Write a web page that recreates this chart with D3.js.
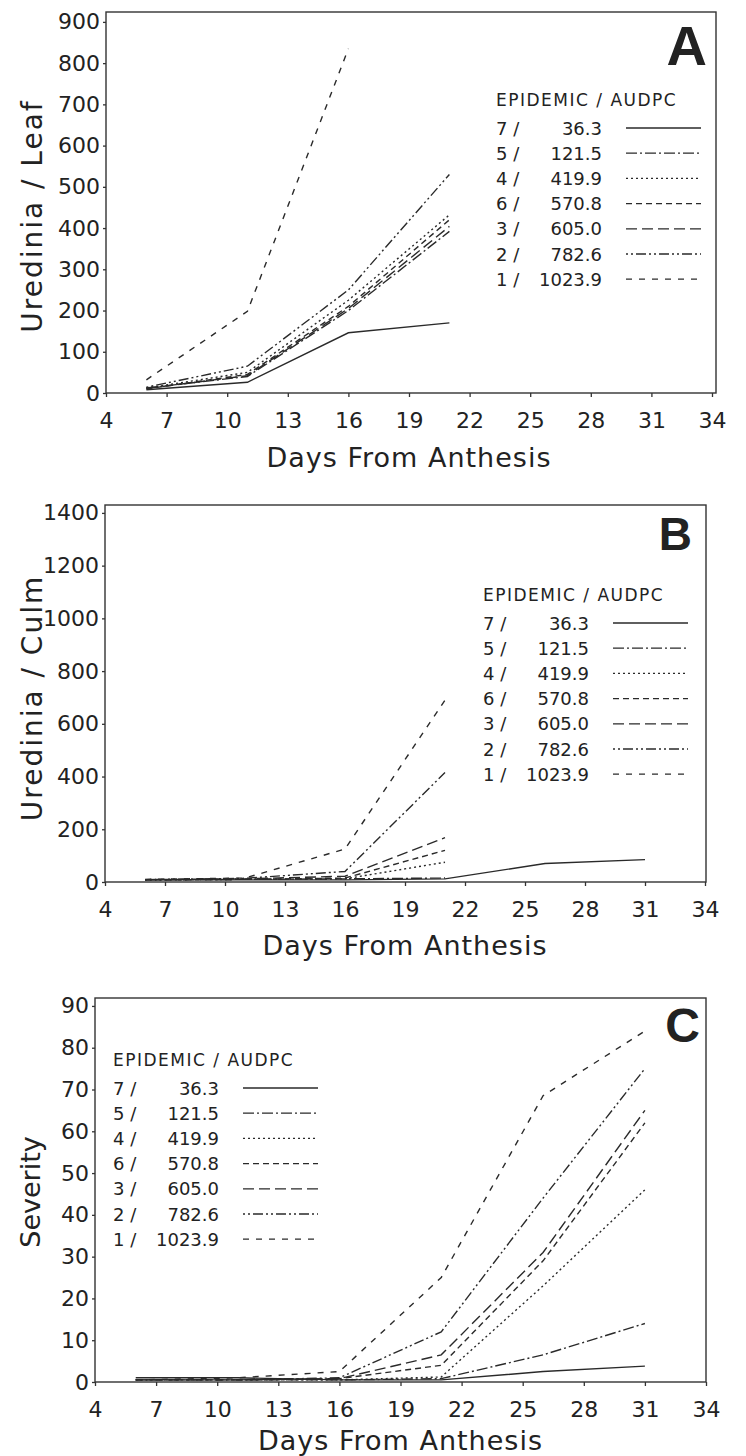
<!DOCTYPE html>
<html lang="en">
<head>
<meta charset="utf-8">
<title>Uredinia and severity by epidemic</title>
<script src="https://d3js.org/d3.v7.min.js"></script>
<style>
body { margin: 0; background: #fff; }
text { font-family: "DejaVu Sans", sans-serif; fill: #222; }
</style>
</head>
<body>
<script>
// legend entries, same order in every panel
var epidemics = ["7", "5", "4", "6", "3", "2", "1"];
var audpc = ["36.3", "121.5", "419.9", "570.8", "605.0", "782.6", "1023.9"];

var days = [6, 11, 16, 21, 26, 31];
var dayTicks = [4, 7, 10, 13, 16, 19, 22, 25, 28, 31, 34];

// A: uredinia per leaf (rows follow epidemics order)
var leafValues = [
  [8, 26, 146, 170],
  [12, 40, 200, 392],
  [12, 50, 225, 432],
  [10, 45, 210, 420],
  [11, 42, 205, 404],
  [14, 65, 250, 530],
  [32, 198, 835]
];
var leafTicks = [0, 100, 200, 300, 400, 500, 600, 700, 800, 900];

// B: uredinia per culm
var culmValues = [
  [8, 8, 8, 12, 70, 85],
  [8, 10, 12, 15],
  [8, 10, 12, 75],
  [8, 10, 15, 120],
  [9, 12, 22, 168],
  [9, 14, 40, 415],
  [10, 15, 125, 690]
];
var culmTicks = [0, 200, 400, 600, 800, 1000, 1200, 1400];

// C: severity
var severityValues = [
  [1, 1, 0.5, 0.5, 2.5, 3.8],
  [0.5, 0.5, 0.5, 0.8, 6.5, 14],
  [0.5, 0.5, 0.5, 1.2, 23, 46],
  [0.5, 0.5, 0.8, 4, 29, 62],
  [0.5, 0.5, 0.8, 6.5, 31, 65],
  [0.5, 0.5, 1, 12, 44, 75],
  [0.5, 1, 2.5, 25, 68.5, 84]
];
var severityTicks = [0, 10, 20, 30, 40, 50, 60, 70, 80, 90];

// line styles per epidemic
var dashes = ["none", "11,3,2,3", "2,3", "6,4", "11,5", "2,3,2,3,10,3", "6,7"];

var svg = d3.select("body").append("svg")
  .attr("width", 746)
  .attr("height", 1456);

function panel(p) {
  var x = d3.scaleLinear().domain([4, 34]).range([p.left, p.x34]);
  var y = d3.scaleLinear().domain([0, p.yTop]).range([p.bottom, p.top]);
  var g = svg.append("g");

  g.append("rect")
    .attr("x", p.left).attr("y", p.top)
    .attr("width", p.right - p.left).attr("height", p.bottom - p.top)
    .attr("fill", "none").attr("stroke", "#333").attr("stroke-width", 1.4);

  var xAxis = g.append("g")
    .attr("transform", "translate(0," + p.bottom + ")")
    .call(d3.axisBottom(x).tickValues(dayTicks).tickSize(4).tickPadding(15));
  var yAxis = g.append("g")
    .attr("transform", "translate(" + p.left + ",0)")
    .call(d3.axisLeft(y).tickValues(p.ticks).tickSize(3).tickPadding(3)
      .tickFormat(d3.format("d")));
  [xAxis, yAxis].forEach(function(a) {
    a.select(".domain").remove();
    a.selectAll("line").attr("stroke", "#333").attr("stroke-width", 1.3);
    a.selectAll("text")
      .style("font-family", "DejaVu Sans")
      .style("font-size", "22px")
      .attr("fill", "#222");
  });

  g.append("text")
    .attr("x", (p.left + p.x34) / 2)
    .attr("y", p.bottom + p.titleGap)
    .attr("text-anchor", "middle")
    .style("font-size", "27px")
    .style("letter-spacing", "1px")
    .text("Days From Anthesis");

  g.append("text")
    .attr("transform", "translate(" + p.yTitleX + "," + p.yTitleY + ") rotate(-90)")
    .attr("text-anchor", "middle")
    .style("font-size", p.yTitleSize + "px")
    .style("letter-spacing", p.yTitleSpacing + "px")
    .text(p.yTitle);

  g.append("text")
    .attr("x", p.letterX).attr("y", p.letterY)
    .attr("text-anchor", "end")
    .style("font-family", "Liberation Sans")
    .style("font-weight", "bold")
    .style("font-size", p.letterSize + "px")
    .text(p.letter);

  var line = d3.line()
    .x(function(d, i) { return x(days[i]); })
    .y(function(d) { return y(d); });

  g.selectAll("path.series")
    .data(p.values)
    .enter()
    .append("path")
    .attr("class", "series")
    .attr("d", line)
    .attr("fill", "none")
    .attr("stroke", "#2a2a2a")
    .attr("stroke-width", 1.4)
    .attr("stroke-dasharray", function(d, i) { return dashes[i]; });

  // legend
  var lg = g.append("g");
  lg.append("text")
    .attr("x", p.legX).attr("y", p.legY)
    .style("font-size", "17px")
    .style("letter-spacing", "1.5px")
    .text("EPIDEMIC / AUDPC");
  epidemics.forEach(function(e, i) {
    var cy = p.legY + 22 + i * 25.2;
    lg.append("text")
      .attr("x", p.legX).attr("y", cy + 6.5)
      .style("font-size", "18px")
      .text(e + " /");
    lg.append("text")
      .attr("x", p.legX + 106).attr("y", cy + 6.5)
      .attr("text-anchor", "end")
      .style("font-size", "18px")
      .text(audpc[i]);
    lg.append("line")
      .attr("x1", p.legX + 130).attr("x2", p.legX + 205)
      .attr("y1", cy).attr("y2", cy)
      .attr("stroke", "#2a2a2a")
      .attr("stroke-width", 1.3)
      .attr("stroke-dasharray", dashes[i]);
  });
}

panel({
  left: 106, x34: 712, right: 716, top: 12, bottom: 393, yTop: 924,
  ticks: leafTicks, values: leafValues, titleGap: 74,
  yTitle: "Uredinia / Leaf", yTitleX: 42, yTitleY: 216,
  yTitleSize: 28, yTitleSpacing: 2,
  letter: "A", letterX: 707, letterY: 65, letterSize: 56,
  legX: 496, legY: 106
});

panel({
  left: 105, x34: 705, right: 706, top: 505, bottom: 882, yTop: 1430,
  ticks: culmTicks, values: culmValues, titleGap: 73,
  yTitle: "Uredinia / Culm", yTitleX: 42, yTitleY: 698,
  yTitleSize: 28, yTitleSpacing: 2,
  letter: "B", letterX: 692, letterY: 550, letterSize: 46,
  legX: 483, legY: 601
});

panel({
  left: 95, x34: 706, right: 706, top: 998, bottom: 1382, yTop: 91.9,
  ticks: severityTicks, values: severityValues, titleGap: 68,
  yTitle: "Severity", yTitleX: 40, yTitleY: 1192,
  yTitleSize: 27, yTitleSpacing: 0,
  letter: "C", letterX: 700, letterY: 1042, letterSize: 48,
  legX: 113, legY: 1066
});
</script>
</body>
</html>
